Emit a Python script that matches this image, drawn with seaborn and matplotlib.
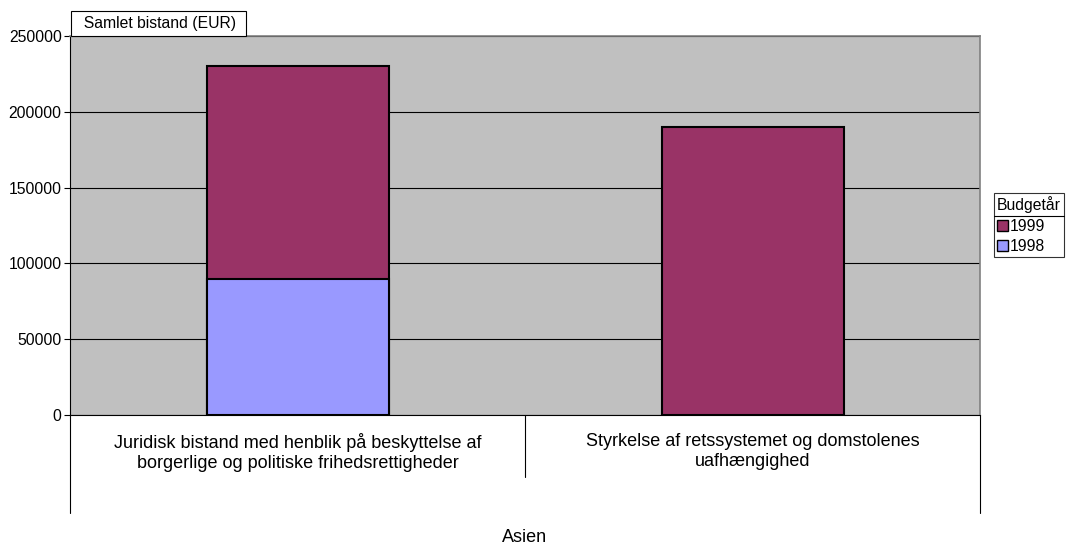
import matplotlib
matplotlib.use("Agg")
import matplotlib.pyplot as plt
import matplotlib.patches as mpatches
import matplotlib.lines as mlines
import seaborn as sns
import pandas as pd

# data
categories = [
    "Juridisk bistand med henblik på beskyttelse af\nborgerlige og politiske frihedsrettigheder",
    "Styrkelse af retssystemet og domstolenes\nuafhængighed",
]
values_1998 = [90000, 0]
values_1999 = [140000, 190000]
series = ["1999", "1998"]
group_label = "Asien"
y_ticks = [0, 50000, 100000, 150000, 200000, 250000]

col_1999 = "#993366"
col_1998 = "#9999FF"

sns.set_theme(style="white")
plt.rcParams["font.family"] = ["Liberation Sans", "DejaVu Sans"]
plt.rcParams.update({"text.color": "black", "axes.labelcolor": "black",
                     "xtick.color": "black", "ytick.color": "black"})

df = pd.DataFrame({"cat": categories, "v1998": values_1998, "v1999": values_1999})
df["total"] = df["v1998"] + df["v1999"]

fig = plt.figure(figsize=(10.71, 5.45), dpi=100)
ax = fig.add_axes([70 / 1071, 1 - 415 / 545, 910 / 1071, 379 / 545])
ax.set_facecolor("#C0C0C0")

sns.barplot(data=df, x="cat", y="total", color=col_1999, width=0.4,
            edgecolor="black", linewidth=1.5, saturation=1, ax=ax, zorder=3)
sns.barplot(data=df[df["v1998"] > 0], x="cat", y="v1998", color=col_1998, width=0.4,
            edgecolor="black", linewidth=1.5, saturation=1, ax=ax, zorder=3,
            order=categories)

ax.set_ylim(0, 250000)
ax.set_xlim(-0.5, 1.5)
ax.set_yticks(y_ticks)
ax.set_yticklabels([str(t) for t in y_ticks], fontsize=11.3)
ax.grid(axis="y", color="black", linewidth=0.8, zorder=1)
ax.set_axisbelow(True)
ax.tick_params(axis="y", direction="out", length=4, width=0.8, color="black", pad=2, left=True)
ax.tick_params(axis="x", length=0, pad=13)
ax.set_xticks([0, 1])
ax.set_xticklabels(categories, fontsize=13, linespacing=1.2)
ax.set_ylabel("")
ax.set_xlabel(group_label, fontsize=13, labelpad=41)

for side in ["top", "right"]:
    ax.spines[side].set_color("#808080")
    ax.spines[side].set_linewidth(1.2)
ax.spines["left"].set_color("black")
ax.spines["bottom"].set_color("black")
ax.spines["left"].set_linewidth(0.8)
ax.spines["bottom"].set_linewidth(0.8)

# category axis separators below the plot
px = 1 / 379
ax.plot([0, 0], [0, -98 * px], transform=ax.transAxes, color="black", lw=0.8, clip_on=False)
ax.plot([1, 1], [0, -98 * px], transform=ax.transAxes, color="black", lw=0.8, clip_on=False)
ax.plot([0.5, 0.5], [0, -62 * px], transform=ax.transAxes, color="black", lw=0.8, clip_on=False)

# value field box
ax.text(0.006, 1.0 + 5 * px, "  Samlet bistand (EUR) ", transform=ax.transAxes, ha="left", va="bottom",
        fontsize=11.3, bbox=dict(boxstyle="square,pad=0.3", fc="white", ec="black", lw=0.8))

# legend
handles = [mpatches.Patch(facecolor=col_1999, edgecolor="black", label=series[0]),
           mpatches.Patch(facecolor=col_1998, edgecolor="black", label=series[1])]
leg = fig.legend(handles=handles, title="Budgetår", loc="upper left",
                 bbox_to_anchor=(994 / 1071, 1 - 193 / 545), fontsize=11.3, title_fontsize=11.3,
                 frameon=True, fancybox=False, edgecolor="black", handlelength=0.7,
                 handleheight=0.7, handletextpad=0.1, borderpad=0.2, labelspacing=0.35,
                 borderaxespad=0)
leg.get_frame().set_linewidth(0.8)
leg._legend_box.align = "left"

# separator line under the legend title
fig.canvas.draw()
fb = leg.get_frame().get_window_extent()
tb = leg.get_title().get_window_extent()
ysep = (round(tb.y0 - 3) + 0.5) / fig.bbox.height
fig.add_artist(mlines.Line2D([fb.x0 / fig.bbox.width, fb.x1 / fig.bbox.width], [ysep, ysep],
                             color="black", lw=0.8, zorder=10))

fig.savefig("out.png", dpi=100)
